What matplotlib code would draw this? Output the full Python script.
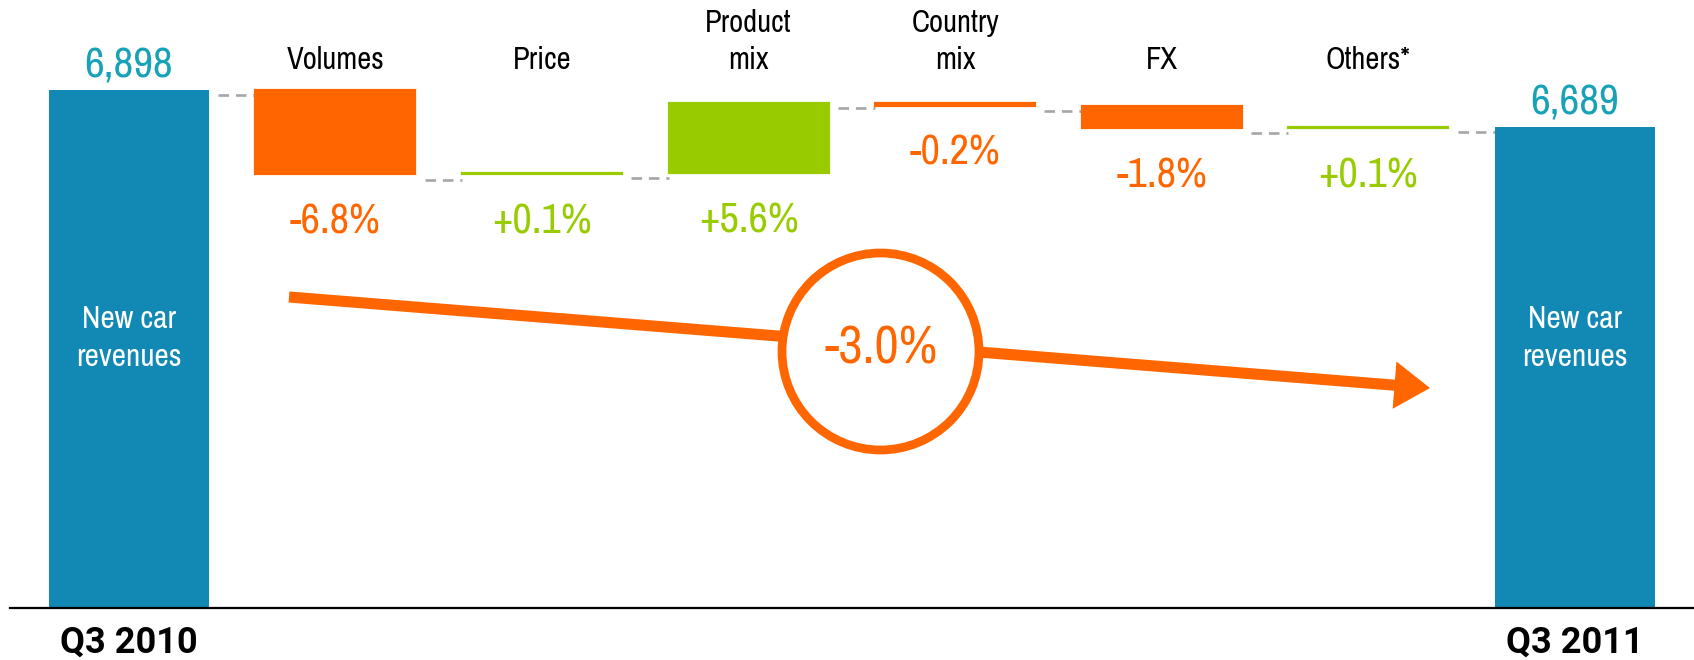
import numpy as np
import matplotlib.pyplot as plt
from matplotlib.patches import Circle

# data
categories = ['Volumes', 'Price', 'Product\nmix', 'Country\nmix', 'FX', 'Others*']
pct_change = [-6.8, 0.1, 5.6, -0.2, -1.8, 0.1]
start_value = 6898
end_value = 6689
period_labels = ['Q3 2010', 'Q3 2011']
total_label = 'New car\nrevenues'
total_change = '-3.0%'

# colours
teal = '#1288b5'
teal_text = '#17a2b8'
orange = '#ff6600'
green = '#99cc00'
dash_grey = '#a6a6a6'

plt.rcParams['font.family'] = ['Archivo Narrow', 'Liberation Sans Narrow', 'DejaVu Sans']
bold_family = ['Roboto', 'Liberation Sans', 'DejaVu Sans']

# the chart uses a broken value axis: bars start from this level
axis_base = 4032

deltas = np.array(pct_change) * start_value / 100.0
levels = start_value + np.concatenate([[0], np.cumsum(deltas)])
lows = np.minimum(levels[:-1], levels[1:])
n = len(categories)
x = np.arange(n + 2)
width = 0.774

fig = plt.figure(figsize=(16.94, 6.6), dpi=100)
ax = fig.add_axes([0, 0, 1, 1])
ax.set_xlim(-0.623, 7.576)
ax.set_ylim(3744.5, 7393.7)
ax.axis('off')

# totals
ax.bar([x[0], x[-1]], [start_value - axis_base, end_value - axis_base],
       bottom=axis_base, width=width, color=teal, zorder=2)

# flows
colors = [green if d >= 0 else orange for d in deltas]
ax.bar(x[1:-1], np.abs(deltas), bottom=lows, width=width, color=colors,
       edgecolor=colors, linewidth=1.6, zorder=2)

# baseline
ax.axhline(axis_base, xmin=0.006, xmax=1, color='black', lw=1.6, zorder=3)

# dashed connectors
for i in range(n + 1):
    lvl = levels[i]
    x0 = x[i] + width / 2 + 0.045
    x1 = x[i + 1] - width / 2
    ax.plot([x0, x1], [lvl - 28, lvl - 28], color=dash_grey, lw=1.9,
            linestyle=(0, (4, 2.6)), dash_capstyle='butt', zorder=1)

# category labels
xt = ax.get_xaxis_transform()
for i, cat in enumerate(categories):
    ax.text(x[i + 1], 1 - 69 / 660, cat, transform=xt, ha='center',
            va='baseline', fontsize=22, color='black', linespacing=1.38)

# percentage labels below each flow
for i, p in enumerate(pct_change):
    ax.annotate(f'{p:+.1f}%', (x[i + 1], lows[i]), xytext=(0, -20),
                textcoords='offset points', ha='center', va='top',
                fontsize=30.5, color=colors[i])

# total values
for xi, v in zip([x[0], x[-1]], [start_value, end_value]):
    ax.annotate(f'{v:,}', (xi, v), xytext=(0, 9), textcoords='offset points',
                ha='center', va='baseline', fontsize=31, color=teal_text)
    ax.text(xi, 1 - 338 / 660, total_label, transform=xt, ha='center',
            va='center', fontsize=22.5, color='white', linespacing=1.42,
            zorder=4)

for xi, lab in zip([x[0], x[-1]], period_labels):
    ax.text(xi, 1 - 653 / 660, lab, transform=xt, ha='center', va='baseline',
            fontsize=26, fontweight='bold', family=bold_family, color='black')

# overlay in pixel units for the trend arrow and circle
ov = fig.add_axes([0, 0, 1, 1], zorder=5)
ov.set_xlim(0, 1694)
ov.set_ylim(660, 0)
ov.axis('off')
ov.patch.set_alpha(0)
ov.annotate('', xy=(1430, 388), xytext=(289, 297),
            arrowprops=dict(arrowstyle='-|>,head_length=1.2,head_width=0.8',
                            mutation_scale=12, lw=8, color=orange,
                            shrinkA=0, shrinkB=0, joinstyle='miter',
                            capstyle='butt'))
ov.add_patch(Circle((880.5, 351.5), 98.5, facecolor='white', edgecolor=orange,
                    lw=6.3, zorder=3))
ov.text(881, 348, total_change, ha='center', va='center', fontsize=38,
        color=orange, zorder=4)

fig.savefig('out.png', dpi=100)
